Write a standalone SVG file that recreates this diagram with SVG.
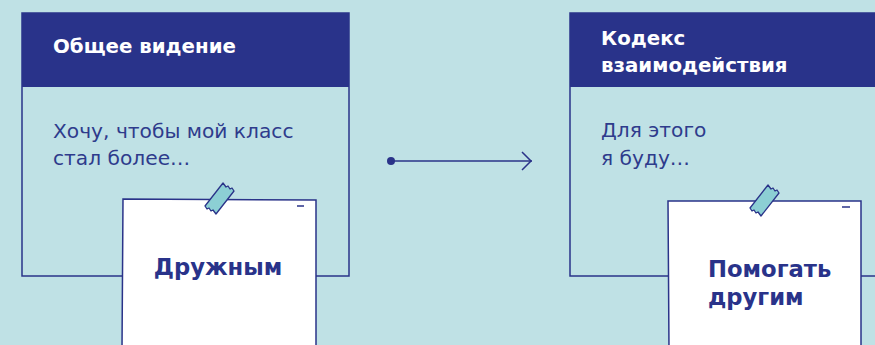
<svg xmlns="http://www.w3.org/2000/svg" width="875" height="345" viewBox="0 0 875 345">
<style>
.card{fill:#bfe1e5;stroke:#2a3389;stroke-width:1.5}
.head{fill:#29338a}
.ht{font-family:"DejaVu Sans","Noto Sans",sans-serif;font-weight:bold;font-size:19.8px;fill:#ffffff}
.bt{font-family:"DejaVu Sans","Noto Sans",sans-serif;font-size:20.2px;fill:#2e3b8c}
.note{fill:#ffffff;stroke:#2a3389;stroke-width:1.5}
.nt{font-family:"DejaVu Sans","Noto Sans",sans-serif;font-weight:bold;font-size:22.7px;fill:#29338a}
.tape{fill:#8ccfd4;stroke:#2a3389;stroke-width:1.3;stroke-linejoin:round}
.dash{stroke:#2a3389;stroke-width:1.5}
.conn{stroke:#2a3389;stroke-width:1.5;fill:none}
</style>
<rect width="875" height="345" fill="#bfe1e5"/>
<g id="card-vision">
<rect class="card" x="22" y="13" width="327" height="263"/>
<rect class="head" x="22" y="13" width="327" height="74"/>
<text class="ht" x="53" y="53">Общее видение</text>
<text class="bt" x="53" y="138">Хочу, чтобы мой класс</text>
<text class="bt" x="53" y="165">стал более…</text>
</g>
<g id="card-code">
<rect class="card" x="570" y="13" width="310" height="263"/>
<rect class="head" x="570" y="13" width="310" height="74"/>
<text class="ht" x="601" y="45">Кодекс</text>
<text class="ht" x="601" y="72">взаимодействия</text>
<text class="bt" x="601" y="137">Для этого</text>
<text class="bt" x="601" y="165">я буду…</text>
</g>
<g id="note-friendly">
<polygon class="note" points="123,199 316,200 316,350 122,350"/>
<line class="dash" x1="297" y1="206" x2="304" y2="206"/>
<path class="tape" d="M205,206 l2,3 l2,-1 l2,3 l2,-1 l3,4 L234,191 l-2,-3 l-2,1 l-2,-3 l-2,1 l-3,-4 Z"/>
<text class="nt" x="218" y="275" text-anchor="middle">Дружным</text>
</g>
<g id="note-help">
<polygon class="note" points="668,201 861,201 861,350 669,350"/>
<line class="dash" x1="842" y1="207" x2="850" y2="207"/>
<path class="tape" d="M750,208 l2,3 l2,-1 l2,3 l2,-1 l3,4 L779,193 l-2,-3 l-2,1 l-2,-3 l-2,1 l-3,-4 Z"/>
<text class="nt" x="708" y="277">Помогать</text>
<text class="nt" x="708" y="305">другим</text>
</g>
<g id="connectors">
<circle cx="391" cy="161" r="4" fill="#2a3389"/>
<line class="conn" x1="391" y1="161" x2="532" y2="161"/>
<polyline class="conn" points="522,152 531,161 522,170"/>
</g>
</svg>
